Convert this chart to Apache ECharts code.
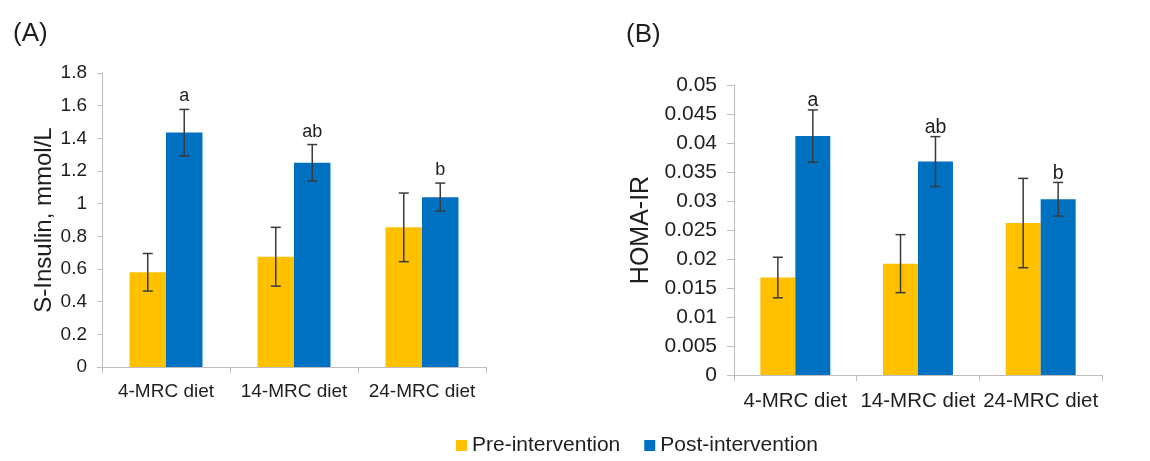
<!DOCTYPE html>
<html>
<head>
<meta charset="utf-8">
<script src="https://cdn.jsdelivr.net/npm/echarts@6/dist/echarts.min.js"></script>
<style>
html,body{margin:0;padding:0;background:#fff;}
#chart{width:1150px;height:461px;}
</style>
</head>
<body>
<div id="chart"></div>
<script>
const categories = ['4-MRC diet', '14-MRC diet', '24-MRC diet'];
const seriesNames = ['Pre-intervention', 'Post-intervention'];
const insulinPre = [0.58, 0.675, 0.855];
const insulinPreErr = [0.115, 0.18, 0.21];
const insulinPost = [1.435, 1.25, 1.04];
const insulinPostErr = [0.142, 0.112, 0.086];
const homaPre = [0.0168, 0.0192, 0.0262];
const homaPreErr = [0.0035, 0.005, 0.0077];
const homaPost = [0.0412, 0.0368, 0.0303];
const homaPostErr = [0.0045, 0.0043, 0.0029];
const sigLetters = ['a', 'ab', 'b'];

const FONT = "'Liberation Sans', Arial, sans-serif";
const PRE_COLOR = '#FFC000';
const POST_COLOR = '#0070C0';
const AXIS_COLOR = '#bfbfbf';
const TEXT_COLOR = '#1e1e1e';
const GAP = 0.43;

function errRender(sign, letters, letterSize, letterLift) {
  return function (params, api) {
    const i = api.value(0), v = api.value(1), e = api.value(2);
    const catW = api.size([1, 0])[0];
    const w = catW * (1 - GAP) / 2;
    const x = api.coord([i, v])[0] + sign * w / 2;
    const yTop = api.coord([i, v + e])[1];
    const yBot = api.coord([i, v - e])[1];
    const cap = 5;
    const st = { stroke: '#3a3a3a', lineWidth: 1.5 };
    const children = [
      { type: 'line', shape: { x1: x, y1: yTop, x2: x, y2: yBot }, style: st },
      { type: 'line', shape: { x1: x - cap, y1: yTop, x2: x + cap, y2: yTop }, style: st },
      { type: 'line', shape: { x1: x - cap, y1: yBot, x2: x + cap, y2: yBot }, style: st }
    ];
    if (letters) {
      children.push({
        type: 'text',
        style: {
          text: letters[params.dataIndex], x: x, y: yTop - letterLift,
          align: 'center', verticalAlign: 'bottom',
          font: letterSize + 'px ' + FONT, fill: TEXT_COLOR
        }
      });
    }
    return { type: 'group', children: children };
  };
}

function triples(vals, errs) { return vals.map((v, i) => [i, v, errs[i]]); }

function xAxis(gridIndex, fontSize, margin) {
  return {
    type: 'category', gridIndex: gridIndex, data: categories,
    axisLine: { show: true, lineStyle: { color: AXIS_COLOR, width: 1 } },
    axisTick: { show: true, length: 6, lineStyle: { color: AXIS_COLOR } },
    axisLabel: { fontSize: fontSize, fontFamily: FONT, color: TEXT_COLOR, margin: margin, interval: 0 },
    splitLine: { show: false }
  };
}

function yAxis(gridIndex, max, interval, name, nameSize, nameGap, labelSize, labelMargin, tickLen) {
  return {
    type: 'value', gridIndex: gridIndex, min: 0, max: max, interval: interval,
    name: name, nameLocation: 'middle', nameGap: nameGap, nameRotate: 90,
    nameTextStyle: { fontSize: nameSize, fontFamily: FONT, color: TEXT_COLOR },
    axisLine: { show: true, lineStyle: { color: AXIS_COLOR, width: 1 } },
    axisTick: { show: true, length: tickLen, lineStyle: { color: AXIS_COLOR } },
    axisLabel: {
      fontSize: labelSize, fontFamily: FONT, color: TEXT_COLOR, margin: labelMargin,
      formatter: function (v) { return String(parseFloat(v.toFixed(4))); }
    },
    splitLine: { show: false }
  };
}

function bars(name, data, color, idx) {
  return {
    type: 'bar', name: name, data: data, xAxisIndex: idx, yAxisIndex: idx,
    barGap: '0%', barCategoryGap: (GAP * 100) + '%',
    itemStyle: { color: color }, emphasis: { disabled: true }
  };
}

function errSeries(data, idx, sign, letters, letterSize, lift) {
  return {
    type: 'custom', xAxisIndex: idx, yAxisIndex: idx, data: data, z: 10, clip: false,
    encode: { x: 0, y: 1 }, renderItem: errRender(sign, letters, letterSize, lift),
    silent: true, tooltip: { show: false }
  };
}

const chart = echarts.init(document.getElementById('chart'), null, { renderer: 'canvas' });
chart.setOption({
  animation: false,
  backgroundColor: '#ffffff',
  title: [
    { text: '(A)', left: 8, top: 16, textStyle: { fontSize: 26, fontWeight: 'normal', fontFamily: FONT, color: TEXT_COLOR } },
    { text: '(B)', left: 621, top: 17, textStyle: { fontSize: 26, fontWeight: 'normal', fontFamily: FONT, color: TEXT_COLOR } }
  ],
  legend: {
    data: seriesNames, left: 451, top: 430, icon: 'rect', itemWidth: 11, itemHeight: 11, itemGap: 24,
    textStyle: { fontSize: 21, fontFamily: FONT, color: TEXT_COLOR }
  },
  grid: [
    { left: 102, right: 664, top: 73, bottom: 94 },
    { left: 734, right: 48, top: 85, bottom: 86 }
  ],
  xAxis: [xAxis(0, 19, 15), xAxis(1, 20.5, 16)],
  yAxis: [
    yAxis(0, 1.8, 0.2, 'S-Insulin, mmol/L', 24, 46, 19, 15, 5),
    yAxis(1, 0.05, 0.005, 'HOMA-IR', 25, 80, 21, 17, 7)
  ],
  series: [
    bars(seriesNames[0], insulinPre, PRE_COLOR, 0),
    bars(seriesNames[1], insulinPost, POST_COLOR, 0),
    bars(seriesNames[0], homaPre, PRE_COLOR, 1),
    bars(seriesNames[1], homaPost, POST_COLOR, 1),
    errSeries(triples(insulinPre, insulinPreErr), 0, -1, null),
    errSeries(triples(insulinPost, insulinPostErr), 0, 1, sigLetters, 18, 4),
    errSeries(triples(homaPre, homaPreErr), 1, -1, null),
    errSeries(triples(homaPost, homaPostErr), 1, 1, sigLetters, 19.5, -1)
  ]
});
</script>
</body>
</html>
